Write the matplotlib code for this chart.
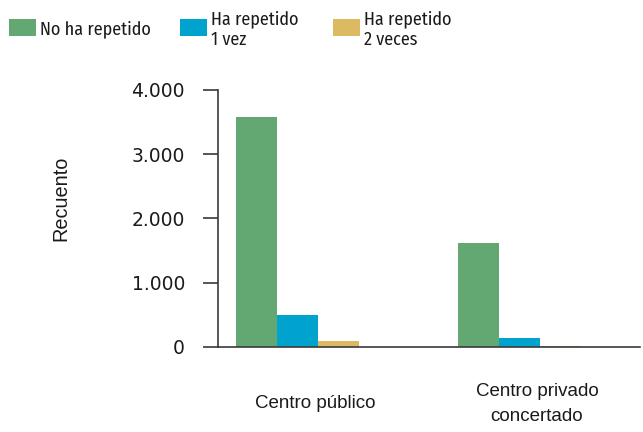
import matplotlib
matplotlib.use("Agg")
import matplotlib.pyplot as plt
import numpy as np
from matplotlib.patches import Rectangle

categories = ["Centro público", "Centro privado\nconcertado"]
series_names = ["No ha repetido", "Ha repetido\n1 vez", "Ha repetido\n2 veces"]
no_repetido = [3580, 1620]
repetido_1 = [500, 140]
repetido_2 = [95, 20]
series_values = [no_repetido, repetido_1, repetido_2]
colors = ["#63A872", "#00A2CE", "#DCBA62"]
yticks = [0, 1000, 2000, 3000, 4000]
ytick_labels = ["0", "1.000", "2.000", "3.000", "4.000"]
ylabel = "Recuento"

W, H = 643, 432
fig = plt.figure(figsize=(W / 100, H / 100), dpi=100)
ax = fig.add_axes([218 / W, 1 - 347 / H, (640 - 218) / W, (347 - 90) / H])

x = np.arange(len(categories))
w = 0.1847
shift = -0.08
for i, (vals, c) in enumerate(zip(series_values, colors)):
    ax.bar(x + shift + (i - 1) * w, vals, width=w, color=c, linewidth=0, zorder=2)

ax.set_xlim(-0.437, 1.464)
ax.set_ylim(0, 4000)
ax.set_yticks(yticks)
ax.set_yticklabels(ytick_labels, family=["DejaVu Sans"], fontsize=13.5, color="#1a1a1a")
ax.set_xticks(x)
ax.set_xticklabels(categories, family=["Liberation Sans", "DejaVu Sans"], fontsize=13.5,
                   color="#1a1a1a", linespacing=1.58)
for lbl in ax.get_xticklabels():
    lbl.set_va("center")
ax.tick_params(axis="x", length=0, pad=41)
ax.tick_params(axis="y", length=10.8, width=1.2, color="#3a3a3a", pad=13)
for s in ["top", "right"]:
    ax.spines[s].set_visible(False)
for s in ["left", "bottom"]:
    ax.spines[s].set_color("#3a3a3a")
    ax.spines[s].set_linewidth(1.2)
ax.spines["bottom"].set_zorder(3)

fig.text(61 / W, 1 - 198 / H, ylabel, rotation=90, ha="center", va="center",
         family=["Liberation Sans", "DejaVu Sans"], fontsize=14.3, color="#1a1a1a")

# legend
leg_x = [9, 180, 333]
for i, (name, c) in enumerate(zip(series_names, colors)):
    x0 = leg_x[i]
    fig.patches.append(Rectangle((x0 / W, 1 - 36 / H), 26.5 / W, 17 / H,
                                 transform=fig.transFigure, facecolor=c,
                                 edgecolor="none"))
    fig.text((x0 + 31) / W, 1 - 29.5 / H, name, ha="left", va="center",
             family=["Fira Sans Condensed", "DejaVu Sans"],
             fontsize=13, color="#1a1a1a", linespacing=1.25)

fig.savefig("out.png", dpi=100)
